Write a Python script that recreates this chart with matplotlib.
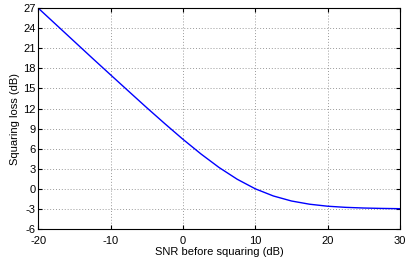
import numpy as np
import matplotlib
matplotlib.use('Agg')
import matplotlib.pyplot as plt

plt.rcParams['font.family'] = ['Liberation Sans', 'DejaVu Sans']
plt.rcParams['axes.unicode_minus'] = False

# SNR before squaring (dB) and squaring loss (dB)
snr_db = [-20, -17.5, -15, -12.5, -10, -7.5, -5, -2.5, 0, 2.5, 5, 7.5,
          10, 12.5, 15, 17.5, 20, 22.5, 25, 27.5, 30]
loss_db = [27.0, 24.5, 22.0, 19.5, 17.03, 14.57, 12.12, 9.73, 7.40, 5.20, 3.18, 1.43,
           0.0, -1.07, -1.82, -2.30, -2.60, -2.77, -2.87, -2.93, -2.97]

x_ticks = [-20, -10, 0, 10, 20, 30]
y_ticks = list(range(-6, 28, 3))

fig = plt.figure(figsize=(4.1, 2.65), dpi=100)
ax = fig.add_axes([0.0935, 0.136, 0.882, 0.833])

ax.plot(snr_db, loss_db, color='#0000ff', linewidth=1.0)

ax.set_xlim(-20, 30)
ax.set_ylim(-6, 27)
ax.set_xticks(x_ticks)
ax.set_yticks(y_ticks)
ax.grid(True, color='#9a9a9a', linestyle=(0, (1, 2)), linewidth=0.7)
ax.tick_params(direction='in', length=3, labelsize=8, top=True, right=True)
ax.tick_params(axis='x', pad=5)
ax.tick_params(axis='y', pad=2)
for s in ax.spines.values():
    s.set_linewidth(0.8)

ax.set_xlabel('SNR before squaring (dB)', fontsize=8, labelpad=1)
ax.set_ylabel('Squaring loss (dB)', fontsize=8, labelpad=2)

plt.savefig('out.png', dpi=100)
